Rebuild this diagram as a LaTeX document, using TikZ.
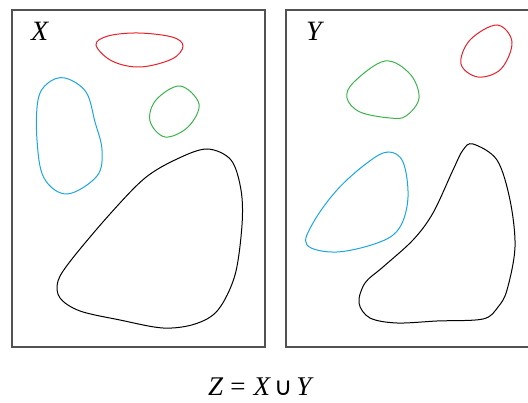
\documentclass[tikz,border=0pt]{standalone}
\usepackage{fontspec}
\newfontfamily\tmsfont{Liberation Serif}
\newfontfamily\symfont{DejaVu Sans}
\begin{document}
\begin{tikzpicture}[x=1pt,y=-1pt,
  frame/.style={draw=black!68,line width=1.4pt},
  lbl/.style={anchor=base west,inner sep=0pt,font=\fontsize{28}{30}\selectfont\tmsfont\itshape}]
\definecolor{cred}{HTML}{E8202A}
\definecolor{cblue}{HTML}{1BA6E3}
\definecolor{cgreen}{HTML}{3BB44A}
\useasboundingbox (0,0) rectangle (528,403);
% frames
\draw[frame] (12,10) rectangle (265,347);
\draw[frame] (286,10) rectangle (540,347);
\node[lbl] (xl) at (31,41) {X};
\node[lbl] (yl) at (306,41) {Y};
% left set X
\draw[cred,line width=1pt] plot[smooth cycle,tension=0.6] coordinates
 {(96,45) (108,36) (138,33) (172,37) (183,46) (172,59) (140,67) (112,61)};
\draw[cblue,line width=1pt] plot[smooth cycle,tension=0.6] coordinates
 {(65,78) (86,92) (95,122) (102,150) (97,176) (67,194) (44,178) (37,140) (38,100) (48,83)};
\draw[cgreen,line width=1pt] plot[smooth cycle,tension=0.6] coordinates
 {(180,86) (199,104) (188,127) (165,137) (150,121) (156,100)};
\draw[black,line width=1pt] plot[smooth cycle,tension=0.55] coordinates
 {(207,149) (231,160) (241,190) (242,225) (235,275) (218,310) (195,324) (163,328) (120,320) (80,311) (60,298) (58,281) (72,259) (110,214) (145,178) (177,159)};
% right set Y
\draw[cred,line width=1pt] plot[smooth cycle,tension=0.6] coordinates
 {(497,25) (512,42) (501,69) (478,77) (461,64) (470,40)};
\draw[cgreen,line width=1pt] plot[smooth cycle,tension=0.6] coordinates
 {(385,61) (410,74) (419,98) (406,116) (390,118) (360,112) (347,98) (354,82)};
\draw[cblue,line width=1pt] plot[smooth cycle,tension=0.6] coordinates
 {(388,152) (403,162) (408,197) (400,227) (380,242) (337,252) (307,245) (313,223) (337,190) (367,163)};
\draw[black,line width=1pt] plot[smooth cycle,tension=0.55] coordinates
 {(473,144) (497,160) (510,200) (515,247) (507,290) (498,307) (483,319) (437,321) (397,323) (370,318) (359,303) (365,283) (383,267) (413,240) (433,213) (453,170) (463,150)};
% caption
\node[anchor=base,inner sep=0pt,font=\fontsize{27}{30}\selectfont\tmsfont] (cap) at (261,396)
 {\textit{Z}\hspace{7pt}=\hspace{8pt}\textit{X}\hspace{3pt}{\symfont\fontsize{25}{28}\selectfont ∪}\hspace{4pt}\textit{Y}};
\end{tikzpicture}
\end{document}
